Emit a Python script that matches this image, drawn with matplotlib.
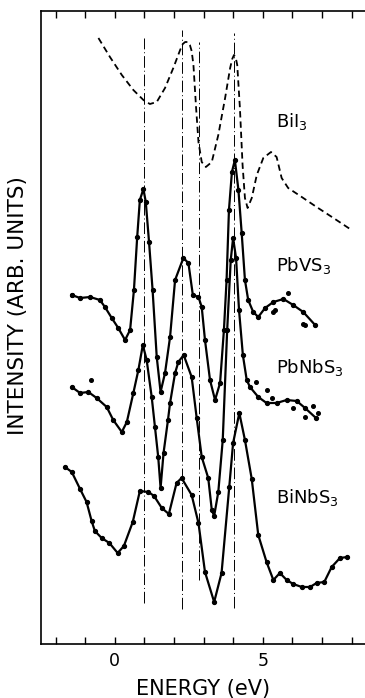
import numpy as np
import matplotlib.pyplot as plt

# BiI3 reference spectrum (dashed)
bii3_e = [-0.55, -0.16, 0.24, 0.63, 0.97, 1.19, 1.42, 1.70, 1.98, 2.21, 2.30, 2.38,
          2.47, 2.54, 2.6, 2.66, 2.75, 2.83, 2.94, 3.08, 3.28, 3.50, 3.73, 3.90,
          3.97, 4.03, 4.09, 4.14, 4.23, 4.32, 4.40, 4.49, 4.63, 4.80, 5.02, 5.28,
          5.47, 5.64, 5.86, 6.32, 6.82, 7.39, 7.95]
bii3_i = [605, 586, 568, 553, 543, 539, 541, 555, 575, 593, 599, 601,
          601, 598, 592, 578, 535, 501, 481, 476, 481, 508, 545, 575,
          584, 588, 585, 578, 535, 478, 445, 435, 445, 468, 485, 491,
          486, 465, 455, 446, 436, 425, 414]

# PbVS3
pbvs3_e = [-1.45, -1.17, -0.83, -0.5, -0.33, -0.1, 0.12, 0.35, 0.52, 0.65, 0.76, 0.85,
           0.97, 1.05, 1.16, 1.28, 1.42, 1.55, 1.7, 1.87, 2.04, 2.32, 2.49, 2.64, 2.83,
           2.94, 3.05, 3.22, 3.39, 3.56, 3.69, 3.78, 3.86, 3.96, 4.06, 4.18, 4.29, 4.4,
           4.51, 4.68, 4.85, 5.08, 5.36, 5.7, 6.03, 6.37, 6.77]
pbvs3_i = [348, 345, 346, 343, 336, 325, 315, 303, 313, 353, 406, 443,
           454, 441, 401, 353, 286, 251, 270, 306, 363, 385, 380, 348, 346,
           336, 303, 263, 243, 260, 313, 363, 433, 471, 483, 453, 410, 363,
           343, 331, 326, 335, 341, 344, 338, 331, 318]
pbvs3_extra_e = [-1.45, 5.36, 5.86, 6.37, 6.43, 5.42]
pbvs3_extra_i = [348, 331, 350, 319, 318, 333]

# PbNbS3
pbnbs3_e = [-1.45, -1.17, -0.89, -0.61, -0.27, -0.05, 0.24, 0.41, 0.63, 0.8, 0.95, 1.08,
            1.25, 1.36, 1.47, 1.55, 1.65, 1.8, 1.87, 2.04, 2.15, 2.33, 2.6, 2.77, 2.94,
            3.16, 3.28, 3.36, 3.5, 3.65, 3.8, 3.92, 4.0, 4.1, 4.2, 4.33, 4.46, 4.57,
            4.85, 5.13, 5.47, 5.81, 6.15, 6.43, 6.8]
pbnbs3_i = [256, 250, 251, 245, 236, 223, 211, 221, 250, 273, 298, 283,
            246, 216, 186, 155, 190, 223, 240, 270, 281, 288, 266, 225, 186,
            165, 133, 127, 151, 203, 313, 383, 405, 385, 333, 288, 263, 256,
            246, 240, 240, 243, 242, 235, 225]
pbnbs3_extra_e = [-0.81, 4.78, 5.13, 5.3, 6.03, 6.43, 6.69, 6.88]
pbnbs3_extra_i = [263, 261, 253, 245, 235, 226, 237, 230]

# BiNbS3
binbs3_e = [-1.68, -1.45, -1.17, -0.95, -0.78, -0.67, -0.44, -0.18, 0.1, 0.31, 0.61,
            0.85, 1.14, 1.33, 1.59, 1.83, 2.09, 2.26, 2.6, 2.83, 3.05, 3.36, 3.61,
            3.87, 4.0, 4.21, 4.4, 4.63, 4.85, 5.13, 5.36, 5.58, 5.81, 6.03, 6.32,
            6.6, 6.82, 7.08, 7.33, 7.61, 7.86]
binbs3_i = [176, 171, 154, 141, 122, 112, 105, 100, 90, 97, 121,
            152, 151, 147, 135, 129, 160, 165, 148, 120, 71, 41, 70,
            156, 200, 230, 203, 164, 108, 81, 63, 70, 63, 59, 56,
            56, 60, 61, 76, 85, 86]

# dash-dot guide lines: position, bottom, top
guide_e = [0.98, 2.29, 2.86, 4.02]
guide_lo = [40, 34, 63, 35]
guide_hi = [605, 613, 601, 610]

labels = ['BiI$_3$', 'PbVS$_3$', 'PbNbS$_3$', 'BiNbS$_3$']
label_i = [521, 378, 276, 146]

fig = plt.figure(figsize=(3.65, 6.98), dpi=100)
ax = fig.add_axes([40.7 / 365, 1 - 644 / 698, 325.6 / 365, 633 / 698])

for e, lo, hi in zip(guide_e, guide_lo, guide_hi):
    ax.plot([e, e], [lo, hi], color='black', lw=0.7, dashes=(12, 3, 1, 3))

ax.plot(bii3_e, bii3_i, color='black', lw=1.3, dashes=(3.5, 2.2))

for e, i in [(pbvs3_e, pbvs3_i), (pbnbs3_e, pbnbs3_i), (binbs3_e, binbs3_i)]:
    ax.plot(e, i, color='black', lw=1.6, marker='o', ms=2.8)
ax.plot(pbvs3_extra_e, pbvs3_extra_i, 'o', color='black', ms=2.6)
ax.plot(pbnbs3_extra_e, pbnbs3_extra_i, 'o', color='black', ms=2.6)

for lab, y in zip(labels, label_i):
    ax.text(5.45, y, lab, fontsize=13, va='center', ha='left')

ax.set_xlim(-2.5, 8.5)
ax.set_ylim(-1, 632)
ax.set_xticks([0, 5])
ax.set_xticks(np.arange(-2, 9, 1), minor=True)
ax.set_yticks([])
ax.tick_params(axis='x', which='both', direction='in', top=True, length=5,
               width=1, labelsize=12.5, pad=6)
for s in ax.spines.values():
    s.set_linewidth(1.2)

ax.set_xlabel('ENERGY (eV)', fontsize=15)
ax.xaxis.set_label_coords(0.5, -0.055)
ax.set_ylabel('INTENSITY (ARB. UNITS)', fontsize=15.5)
ax.yaxis.set_label_coords(-0.04, 0.535)

plt.savefig('out.png', dpi=100)
